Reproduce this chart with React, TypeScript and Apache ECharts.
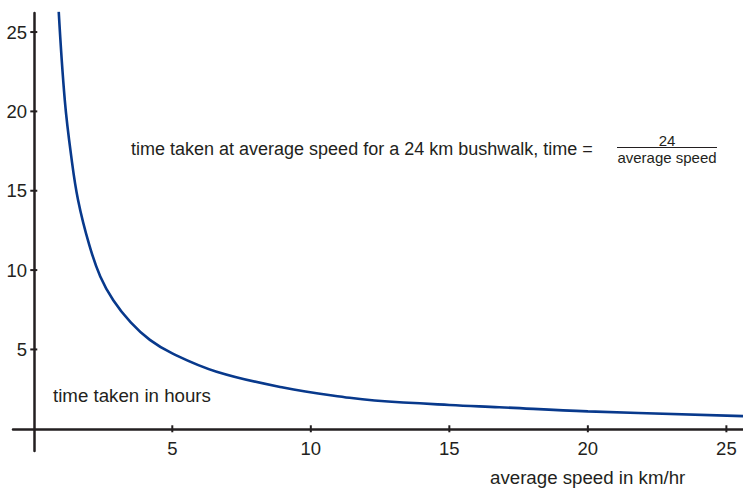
import React, { useEffect, useRef } from "react";
import * as echarts from "echarts";

// values
const speedKmHr: number[] = [0.9, 1.12, 1.35, 1.6, 2, 2.4, 2.87, 3.5, 4.19, 5, 6.6, 9, 11.4, 12.3, 15, 16.8, 20, 25.6];
const timeHours: number[] = [26.3, 20.7, 17.2, 14.4, 11.6, 9.6, 8.1, 6.7, 5.6, 4.75, 3.6, 2.6, 1.95, 1.78, 1.5, 1.36, 1.1, 0.8];
const xTicks: number[] = [5, 10, 15, 20, 25];
const yTicks: number[] = [5, 10, 15, 20, 25];

const titleText = "time taken at average speed for a 24 km bushwalk, time =";
const fracNum = "24";
const fracDen = "average speed";
const yName = "time taken in hours";
const xName = "average speed in km/hr";

const INK = "#231f20";
const FONT = "'Liberation Sans', Arial, sans-serif";

export default function App() {
  const ref = useRef<HTMLDivElement>(null);
  useEffect(() => {
    if (!ref.current) return;
    const chart = echarts.init(ref.current, null, { renderer: "svg" });
    const data = speedKmHr.map((s, i) => [s, timeHours[i]]);
    const tickData = [
      ...xTicks.map((v) => [v, 0, 0]),
      ...yTicks.map((v) => [0, v, 1]),
    ];
    chart.setOption({
      animation: false,
      grid: { left: 13, right: 0, top: 13, bottom: 38, containLabel: false, outerBoundsMode: "none" },
      xAxis: {
        type: "value",
        min: -0.75,
        max: 25.6,
        splitLine: { show: false },
        axisLine: { onZero: true, lineStyle: { color: INK, width: 2.5 } },
        axisTick: { show: false },
        axisLabel: { customValues: xTicks, fontSize: 18.5, margin: -12.5, color: INK, fontFamily: FONT },
      },
      yAxis: {
        type: "value",
        min: -1.4,
        max: 26.2,
        splitLine: { show: false },
        axisLine: { onZero: true, lineStyle: { color: INK, width: 2.5 } },
        axisTick: { show: false },
        axisLabel: { customValues: yTicks, fontSize: 18.5, margin: -14, color: INK, fontFamily: FONT },
      },
      series: [
        {
          type: "line",
          data,
          smooth: 0.4,
          showSymbol: false,
          clip: true,
          lineStyle: { color: "#08398c", width: 2.6 },
          z: 3,
        },
        {
          type: "custom",
          data: tickData,
          clip: false,
          silent: true,
          z: 4,
          renderItem: (_params: any, api: any) => {
            const p = api.coord([api.value(0), api.value(1)]);
            const vertical = api.value(2) === 0;
            const h = 3.5;
            return {
              type: "line",
              shape: vertical
                ? { x1: p[0], y1: p[1] - h, x2: p[0], y2: p[1] + h }
                : { x1: p[0] - h, y1: p[1], x2: p[0] + h, y2: p[1] },
              style: { stroke: INK, lineWidth: 2 },
            };
          },
        },
      ],
      graphic: [
        {
          type: "text",
          x: 131,
          y: 149,
          style: { text: titleText, fill: INK, fontSize: 18, fontFamily: FONT, align: "left", verticalAlign: "middle" },
        },
        {
          type: "text",
          x: 667,
          y: 140,
          style: { text: fracNum, fill: INK, fontSize: 15, fontFamily: FONT, align: "center", verticalAlign: "middle" },
        },
        {
          type: "line",
          shape: { x1: 617, y1: 147.5, x2: 717, y2: 147.5 },
          style: { stroke: INK, lineWidth: 1 },
        },
        {
          type: "text",
          x: 667,
          y: 157,
          style: { text: fracDen, fill: INK, fontSize: 15, fontFamily: FONT, align: "center", verticalAlign: "middle" },
        },
        {
          type: "text",
          x: 53,
          y: 395,
          style: { text: yName, fill: INK, fontSize: 18.7, fontFamily: FONT, align: "left", verticalAlign: "middle" },
        },
        {
          type: "text",
          x: 490,
          y: 477,
          style: { text: xName, fill: INK, fontSize: 18.7, fontFamily: FONT, align: "left", verticalAlign: "middle" },
        },
      ],
    });
    return () => chart.dispose();
  }, []);
  return (
    <div
      ref={ref}
      style={{ position: "fixed", left: 0, top: 0, width: 743, height: 489, background: "#fff" }}
    />
  );
}
